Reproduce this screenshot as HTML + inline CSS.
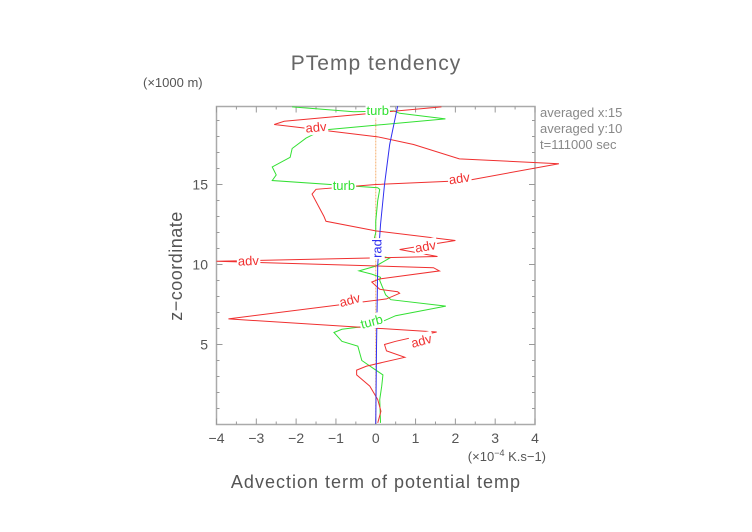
<!DOCTYPE html>
<html><head><meta charset="utf-8"><style>
html,body{margin:0;padding:0;background:#fff;}
svg{display:block;font-family:"Liberation Sans",sans-serif;}
</style></head><body>
<svg id="chart" width="752" height="532" viewBox="0 0 752 532">
<defs><clipPath id="pc"><rect x="200" y="106" width="400" height="318"/></clipPath>
<clipPath id="tc"><rect x="530" y="95" width="110" height="60"/></clipPath></defs>
<text x="376" y="70" text-anchor="middle" font-size="21" fill="#666" letter-spacing="1">PTemp tendency</text>
<text x="143" y="87" font-size="13" fill="#555">(×1000 m)</text>
<g clip-path="url(#tc)" fill="#888" font-size="13">
<text x="540" y="117">averaged  x:15</text>
<text x="540" y="133">averaged  y:10</text>
<text x="540" y="149">t=111000 sec</text>
</g>
<g id="axes"></g>
<g id="series" clip-path="url(#pc)"></g>
<g id="labels"></g>
<text x="546" y="461" text-anchor="end" font-size="13" fill="#555">(×10<tspan font-size="9" dy="-5">−4</tspan><tspan dy="5"> K.s−1)</tspan></text>
<text x="376" y="488" text-anchor="middle" font-size="18" fill="#555" letter-spacing="1">Advection term of potential temp</text>
<text transform="translate(182,266) rotate(-90)" text-anchor="middle" font-size="18" fill="#555" letter-spacing="0.5">z−coordinate</text>
</svg>
<script>
const xTicks=[-4,-3,-2,-1,0,1,2,3,4];
const xTickLabels=["−4","−3","−2","−1","0","1","2","3","4"];
const yTicks=[5,10,15];
const yTickLabels=["5","10","15"];
const advX=[0.05,0.13,0.05,-0.15,-0.48,-0.48,-0.23,0.73,0.27,0.22,0.5,1.53,-3.7,0.27,0.6,0.55,0.1,-0.1,0.1,1.6,1.45,-4.0,1.55,0.6,2.0,0.0,-1.25,-1.3,-1.6,-1.5,0.0,2.3,4.6,2.1,0.95,0.05,-1.35,-2.55,-2.3,1.65];
const advZ=[0.1,0.83,1.56,2.4,3.1,3.4,3.65,4.2,4.6,5.0,5.2,5.78,6.6,7.85,8.2,8.3,8.45,8.9,9.1,9.6,9.8,10.2,10.5,10.94,11.5,12.1,12.7,13.0,14.4,14.7,15.0,15.25,16.3,16.6,17.5,17.98,18.4,18.75,18.95,19.85];
const turbX=[0.12,0.1,0.15,0.18,0.0,-0.35,-0.45,-0.85,-1.05,-0.85,-0.05,0.5,1.76,0.38,0.25,0.15,0.1,0.12,-0.1,-0.42,0.0,0.35,0.0,-0.05,0.0,0.0,0.05,0.1,0.05,-2.6,-2.5,-2.6,-2.15,-2.1,-1.75,-1.35,1.75,0.6,0.45,-0.55,-2.1];
const turbZ=[0.1,1.56,2.4,3.1,3.4,4.0,4.9,5.2,5.75,5.95,6.2,6.8,7.4,7.8,8.1,8.7,9.0,9.2,9.4,9.6,9.9,10.4,10.6,11.5,12.0,12.7,14.0,14.7,14.8,15.25,15.6,16.1,16.7,17.25,17.9,18.4,19.1,19.45,19.6,19.55,19.85];
const radX=[0,0.02,0.05,0.12,0.22,0.35,0.55];
const radZ=[0,5,10,12.5,15,17.5,19.9];
const X0=216.5,X1=535,Y0=424.5,YPX=16;
const sx=v=>X0+(v+4)*(X1-X0)/8;
const sy=z=>Y0-z*YPX;
const NS="http://www.w3.org/2000/svg";
function mk(tag,attrs,parent){const e=document.createElementNS(NS,tag);for(const k in attrs)e.setAttribute(k,attrs[k]);parent.appendChild(e);return e;}
const axes=document.getElementById('axes'),series=document.getElementById('series'),labels=document.getElementById('labels');
const frame=mk('rect',{x:X0,y:sy(19.875),width:X1-X0,height:Y0-sy(19.875),fill:'none',stroke:'#aaa','stroke-width':1.5},axes);


const yTop=sy(19.875);
for(let v=-4;v<=4.001;v+=0.5){const major=Math.abs(v-Math.round(v))<1e-6;const L=major?6:3;
mk('line',{x1:sx(v),x2:sx(v),y1:Y0,y2:Y0-L,stroke:'#999'},axes);
mk('line',{x1:sx(v),x2:sx(v),y1:yTop,y2:yTop+L,stroke:'#999'},axes);}
for(let z=1;z<=19;z++){const L=z%5===0?6:3;
mk('line',{x1:X0,x2:X0+L,y1:sy(z),y2:sy(z),stroke:'#999'},axes);
mk('line',{x1:X1,x2:X1-L,y1:sy(z),y2:sy(z),stroke:'#999'},axes);}
xTicks.forEach((v,i)=>{const t=mk('text',{x:sx(v),y:443,'text-anchor':'middle','font-size':14,fill:'#555'},axes);t.textContent=xTickLabels[i];

});
yTicks.forEach((z,i)=>{const t=mk('text',{x:208,y:sy(z)+5,'text-anchor':'end','font-size':14,fill:'#555'},axes);t.textContent=yTickLabels[i];

});
function line(xs,zs,color,name,w){const p=mk('polyline',{points:xs.map((v,i)=>sx(v)+','+sy(zs[i])).join(' '),fill:'none',stroke:color,'stroke-width':w||1},series);

}
mk('line',{x1:sx(0),x2:sx(0),y1:sy(0),y2:sy(19.9),stroke:'#f5b070','stroke-width':1,'stroke-dasharray':'2,1'},series);
line(turbX,turbZ,'#33e033','turb-line');
line(advX,advZ,'#f03030','adv-line');
line(radX,radZ,'#3030f0','rad-line');
function lab(txt,v,z,color,rot,name){const t=mk('text',{x:sx(v),y:sy(z)+4,'text-anchor':'middle','font-size':13,fill:color,transform:'rotate('+rot+' '+sx(v)+' '+(sy(z))+')'},labels);t.textContent=txt;
const bb=t.getBBox();const r=mk('rect',{x:bb.x-1,y:bb.y,width:bb.width+2,height:bb.height,fill:'#fff',transform:'rotate('+rot+' '+sx(v)+' '+(sy(z))+')'},labels);labels.insertBefore(r,t);

}
lab('adv',-1.5,18.55,'#f03030',-5,'adv-label-top');
lab('adv',2.1,15.35,'#f03030',-8,'adv-label');
lab('adv',1.25,11.1,'#f03030',-10,'adv-label');
lab('adv',-3.2,10.2,'#f03030',-2,'adv-label');
lab('adv',-0.65,7.75,'#f03030',-15,'adv-label');
lab('adv',1.15,5.2,'#f03030',-15,'adv-label');
lab('turb',0.05,19.6,'#33e033',0,'turb-label');
lab('turb',-0.8,14.9,'#33e033',0,'turb-label');
lab('turb',-0.1,6.4,'#33e033',-15,'turb-label');
lab('rad',0.05,11.0,'#3030f0',-90,'rad-label');
</script>
</body></html>
